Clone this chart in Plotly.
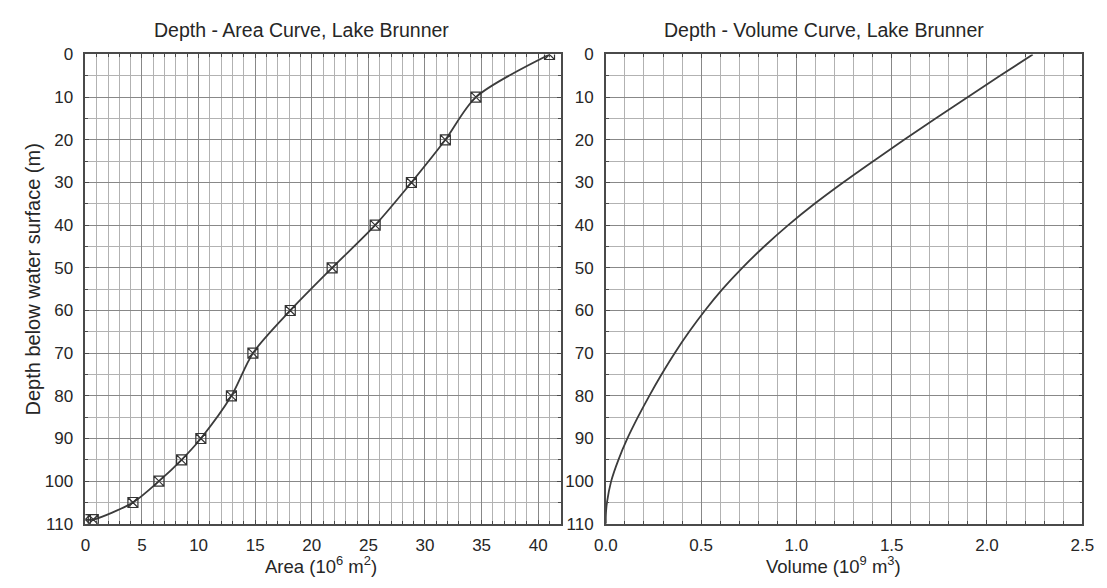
import plotly.graph_objects as go
from plotly.subplots import make_subplots

# Depth-area survey points, Lake Brunner
area_depth = [0, 10, 20, 30, 40, 50, 60, 70, 80, 90, 95, 100, 105, 109, 109]
area_values = [41.0, 34.5, 31.8, 28.8, 25.6, 21.8, 18.1, 14.8, 12.9, 10.2, 8.5, 6.5, 4.2, 0.7, 0.0]

# Depth-volume curve, Lake Brunner
volume_depth = [0, 5, 10, 15, 20, 25, 30, 35, 40, 45, 50, 55, 60, 65, 70, 75, 80,
                85, 90, 95, 100, 105, 108, 110]
volume_values = [2.240, 2.068, 1.898, 1.730, 1.565, 1.403, 1.245, 1.095, 0.957, 0.831,
                 0.716, 0.612, 0.520, 0.437, 0.361, 0.292, 0.228, 0.168, 0.113, 0.066,
                 0.028, 0.006, 0.0, 0.0]

depth_ticks = list(range(0, 111, 10))
area_ticks = list(range(0, 41, 5))
volume_ticks = [0.0, 0.5, 1.0, 1.5, 2.0, 2.5]
volume_ticklabels = ["0.0", "0.5", "1.0", "1.5", "2.0", "2.5"]

FONT = "Liberation Sans, Arial, sans-serif"
TEXT = "#262626"
LINE = "#3c3c3c"
FRAME = "#4a4a4a"
MAJOR_GRID = "#888888"
MINOR_GRID = "#b2b2b2"

fig = make_subplots(rows=1, cols=2, horizontal_spacing=0.04)

fig.add_trace(go.Scatter(
    x=area_values, y=area_depth, mode="lines+markers",
    line=dict(color=LINE, width=1.8, shape="spline", smoothing=0.8),
    marker=dict(symbol="square-x-open", size=10, color="#333333",
                line=dict(width=1.2, color="#333333")),
    showlegend=False), row=1, col=1)

fig.add_trace(go.Scatter(
    x=volume_values, y=volume_depth, mode="lines",
    line=dict(color=LINE, width=1.8, shape="spline", smoothing=1.0),
    showlegend=False), row=1, col=2)

common_axis = dict(
    showline=True, linecolor=FRAME, linewidth=1.5, mirror="allticks",
    ticks="inside", ticklen=4, tickcolor=FRAME, tickwidth=1,
    showgrid=True, gridcolor=MAJOR_GRID, gridwidth=1,
    zeroline=False,
    tickfont=dict(family=FONT, size=17, color=TEXT),
)

fig.update_xaxes(
    domain=[75 / 1107, 561 / 1107], range=[0, 42],
    tickvals=area_ticks, ticklabelstandoff=5,
    minor=dict(dtick=1, showgrid=True, gridcolor=MINOR_GRID, gridwidth=1,
               ticks="inside", ticklen=3, tickcolor=FRAME),
    **common_axis, row=1, col=1)
fig.update_xaxes(
    domain=[607 / 1107, 1094 / 1107], range=[0, 2.5],
    tickvals=volume_ticks, ticktext=volume_ticklabels, ticklabelstandoff=5,
    minor=dict(dtick=0.1, showgrid=True, gridcolor=MINOR_GRID, gridwidth=1,
               ticks="inside", ticklen=3, tickcolor=FRAME),
    **common_axis, row=1, col=2)

for c in (1, 2):
    fig.update_yaxes(
        domain=[56 / 588, 541 / 588], range=[110, 0],
        tickvals=depth_ticks, ticklabelstandoff=7,
        minor=dict(dtick=5, showgrid=True, gridcolor=MINOR_GRID, gridwidth=1,
                   ticks="inside", ticklen=3, tickcolor=FRAME),
        **common_axis, row=1, col=c)

annotations = [
    dict(text="Depth - Area Curve, Lake Brunner", x=296 / 1107, y=(588 - 22) / 588,
         font=dict(size=19.5, family=FONT, color=TEXT)),
    dict(text="Depth - Volume Curve, Lake Brunner", x=830 / 1107, y=(588 - 22) / 588,
         font=dict(size=19.5, family=FONT, color=TEXT)),
    dict(text="Area (10<sup>6</sup> m<sup>2</sup>)", x=316 / 1107, y=(588 - 575) / 588,
         font=dict(size=18.5, family=FONT, color=TEXT)),
    dict(text="Volume (10<sup>9</sup> m<sup>3</sup>)", x=840 / 1107, y=(588 - 575) / 588,
         font=dict(size=18.5, family=FONT, color=TEXT)),
    dict(text="Depth below water surface (m)", x=21 / 1107, y=(588 - 280) / 588,
         textangle=-90, font=dict(size=20, family=FONT, color=TEXT)),
]
for a in annotations:
    a.update(xref="paper", yref="paper", showarrow=False,
             xanchor="center", yanchor="middle")

fig.update_layout(
    width=1107, height=588,
    margin=dict(l=0, r=0, t=0, b=0),
    paper_bgcolor="white", plot_bgcolor="white",
    annotations=annotations,
    font=dict(family=FONT, color=TEXT),
)

fig.write_html("out.html")
